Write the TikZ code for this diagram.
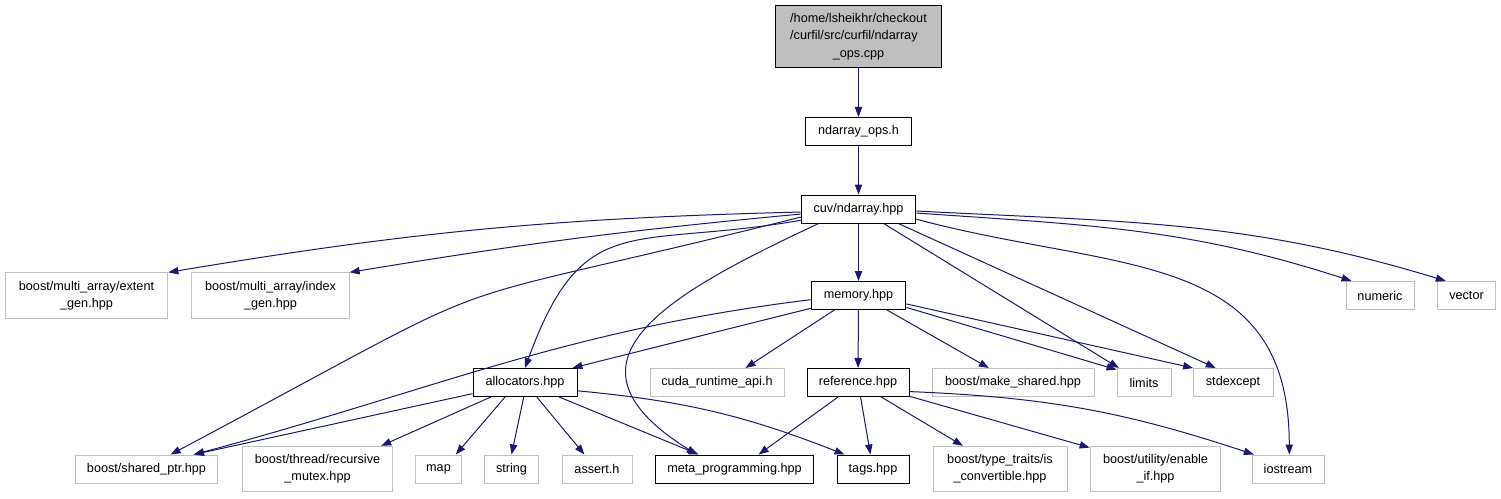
\documentclass[tikz,border=0pt]{standalone}
\usepackage{fontspec}
\setmainfont{Liberation Sans}
\usetikzlibrary{arrows.meta}
\definecolor{incl}{RGB}{25,25,112}
\definecolor{sysgray}{RGB}{191,191,191}

\begin{document}
\begin{tikzpicture}[x=0.75pt, y=-0.75pt, font=\fontsize{9.5}{13}\selectfont,
   file/.style={draw=black, fill=white, line width=0.75pt, align=center, inner sep=2pt, minimum height=21pt},
   sys/.style={file, draw=sysgray},
   two/.style={minimum height=34pt},
   root/.style={file, fill=sysgray, minimum height=47pt},
   inc/.style={draw=incl, line width=0.75pt, -{Triangle[length=7.5pt,width=5.5pt]}}]
  \useasboundingbox (0,0) rectangle (1501,499);

  % top chain
  \node[root, minimum width=124pt] (top) at (858.5,36.5)
    {\begin{tabular}{@{}l@{}}/home/lsheikhr/checkout\\/curfil/src/curfil/ndarray\\\multicolumn{1}{@{}c@{}}{\_ops.cpp}\end{tabular}};
  \node[file, minimum width=79pt] (ops) at (858.5,131.5) {ndarray\_ops.h};
  \node[file, minimum width=86pt] (nd) at (858.5,209) {cuv/ndarray.hpp};

  % second row
  \node[sys, two, minimum width=122pt] (ext) at (86.5,295.5) {boost/multi\_array/extent\\\_gen.hpp};
  \node[sys, two, minimum width=118pt] (idx) at (270.5,295.5) {boost/multi\_array/index\\\_gen.hpp};
  \node[file, minimum width=71pt] (mem) at (858.5,295.5) {memory.hpp};
  \node[sys, minimum width=51pt] (num) at (1380,295.5) {numeric};
  \node[sys, minimum width=44pt] (vec) at (1466.5,295.5) {vector};

  % third row
  \node[file, minimum width=78pt] (alloc) at (525,382.5) {allocators.hpp};
  \node[sys, minimum width=100.5pt] (cuda) at (717,382.5) {cuda\_runtime\_api.h};
  \node[file, minimum width=76.5pt] (ref) at (858,382.5) {reference.hpp};
  \node[sys, minimum width=121.5pt] (ms) at (1013,382.5) {boost/make\_shared.hpp};
  \node[sys, minimum width=40.5pt] (lim) at (1144,382.5) {limits};
  \node[sys, minimum width=60pt] (std) at (1233,382.5) {stdexcept};

  % bottom row
  \node[sys, minimum width=107pt] (sp) at (146.5,469) {boost/shared\_ptr.hpp};
  \node[sys, two, minimum width=113pt] (mtx) at (317.5,469) {boost/thread/recursive\\\_mutex.hpp};
  \node[sys, minimum width=35pt] (map) at (438.5,469) {map};
  \node[sys, minimum width=41pt] (str) at (511.5,469) {string};
  \node[sys, minimum width=52.5pt] (ast) at (597,469) {assert.h};
  \node[file, minimum width=119pt] (meta) at (734.5,469) {meta\_programming.hpp};
  \node[file, minimum width=54pt] (tags) at (873,469) {tags.hpp};
  \node[sys, two, minimum width=100.5pt] (isc) at (1000,469) {boost/type\_traits/is\\\_convertible.hpp};
  \node[sys, two, minimum width=98pt] (enif) at (1155.5,469) {boost/utility/enable\\\_if.hpp};
  \node[sys, minimum width=54pt] (ios) at (1288,469) {iostream};

  \draw[inc] (top) -- (ops);
  \draw[inc] (ops) -- (nd);

  % cuv/ndarray.hpp
  \draw[inc] (nd.183) to[bend right=4] (ext.north east);
  \draw[inc] (nd.185) to[bend right=2] (idx.north east);
  \draw[inc] (nd.188) to[out=194, in=28, looseness=1.6] (sp.31);
  \draw[inc] (nd.191) to[out=190, in=70, looseness=1.4] (alloc.north);
  \draw[inc] (nd.200) to[out=205, in=148, looseness=1.7] (meta.159);
  \draw[inc] (nd) -- (mem);
  \draw[inc] (nd.-30) -- (lim.150);
  \draw[inc] (nd.-20) -- (std.140);
  \draw[inc] (nd.-10) to[out=-15, in=90, looseness=1.2] (ios.85);
  \draw[inc] (nd.-4) to[out=-4, in=162] (num.153);
  \draw[inc] (nd.-2) to[out=-3, in=163] (vec.145);

  % memory.hpp
  \draw[inc] (mem.185) to[out=187, in=15] (sp.17);
  \draw[inc] (mem.195) -- (alloc.17);
  \draw[inc] (mem.211) -- (cuda.27);
  \draw[inc] (mem) -- (ref);
  \draw[inc] (mem.-27) -- (ms.149);
  \draw[inc] (mem.-14) -- (lim.155);
  \draw[inc] (mem.-10) -- (std.160);

  % allocators.hpp
  \draw[inc] (alloc.192) -- (sp.17);
  \draw[inc] (alloc.203) -- (mtx.20);
  \draw[inc] (alloc.216) -- (map.40);
  \draw[inc] (alloc.265) -- (str.north);
  \draw[inc] (alloc.-51) -- (ast.131);
  \draw[inc] (alloc.-23) -- (meta.158);
  \draw[inc] (alloc.-9) to[bend left=8] (tags.153);

  % reference.hpp
  \draw[inc] (ref.216) -- (meta.31);
  \draw[inc] (ref.-80) -- (tags.100);
  \draw[inc] (ref.-32) -- (isc.148);
  \draw[inc] (ref.-15) -- (enif.162);
  \draw[inc] (ref.-10) to[bend left=8] (ios.157);
\end{tikzpicture}
\end{document}
